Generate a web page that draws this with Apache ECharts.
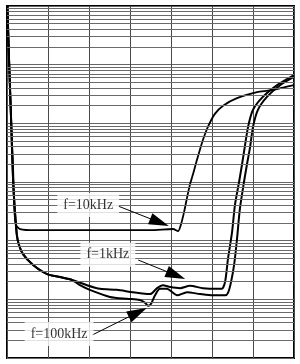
<!DOCTYPE html>
<html><head><meta charset="utf-8">
<script src="https://cdn.jsdelivr.net/npm/echarts@6/dist/echarts.min.js"></script>
<style>html,body{margin:0;padding:0;background:#fff}#c{width:300px;height:364px}</style>
</head><body><div id="c"></div>
<script>
// ---- data ----
var x10k = [0.01,0.05,0.10,0.15,0.18,0.22,0.32,0.68,1.78,3.49,4.05,4.17,4.24,4.32,4.39,4.46,4.54,4.63,4.78,4.90,5.07,5.27,5.61,6.10,6.41,6.73,7.0];
var y10k = [1000000,120000,11500,1580,331,186,158,151,151,151,158,145,186,309,537,891,1380,2340,5250,8710,14500,20000,26900,33900,36300,40700,44700];

var x1k = [0.01,0.05,0.10,0.15,0.20,0.24,0.29,0.39,0.63,0.98,1.29,1.59,1.95,2.27,2.68,3.07,3.49,3.66,3.80,3.98,4.22,4.46,4.78,5.12,5.24,5.32,5.39,5.49,5.56,5.66,5.73,5.80,5.88,6.0,6.24,6.59,7.0];
var y1k = [1000000,120000,11500,1000,275,126,85.1,58.9,38.9,26.9,24.0,21.4,17.4,15.1,14.5,13.2,12.3,15.5,17.4,16.2,15.5,17.0,15.5,15.1,15.1,20.0,49.0,141,407,1000,1950,3980,8710,17000,28200,44700,66100];

var x100k = [0.01,0.05,0.10,0.15,0.20,0.24,0.29,0.39,0.63,0.98,1.29,1.59,1.78,2.02,2.51,2.93,3.24,3.37,3.44,3.51,3.61,3.73,3.90,4.15,4.39,4.71,5.02,5.32,5.39,5.46,5.54,5.61,5.68,5.78,5.85,5.93,6.0,6.12,6.34,6.66,7.0];
var y100k = [1000000,120000,11500,1000,275,126,85.1,58.9,38.9,26.9,24.0,21.4,17.4,14.5,11.0,10.2,9.77,8.71,7.76,8.32,11.7,15.1,15.1,11.7,13.2,12.3,11.7,11.7,12.9,19.1,38.9,107,347,1000,1950,3980,8710,17000,28200,44700,61700];

var minorFactors = [2,3,4,5,6,7,8,9];
var decades = [1,10,100,1000,10000,100000];

var labelTexts = ['f=10kHz','f=1kHz','f=100kHz'];
var labelPos = [[1.98,407],[2.46,57.5],[1.27,2.57]];
var arrowFrom = [[2.71,389],[3.20,46.8],[2.07,2.45]];
var arrowTo = [[3.72,205],[4.12,25.7],[3.19,6.0]];

// ---- build ----
function zip(a,b){var r=[];for(var i=0;i<a.length;i++)r.push([a[i],b[i]]);return r;}
var gridVals=[];
decades.forEach(function(d){minorFactors.forEach(function(f){gridVals.push({yAxis:d*f});});});

var chart = echarts.init(document.getElementById('c'));
var curveStyle = {color:'#000',width:2};
chart.setOption({
  animation:false,
  grid:{left:7,right:6,top:6,bottom:6,show:true,borderColor:'#000',borderWidth:2,backgroundColor:'#fff'},
  xAxis:{type:'value',min:0,max:7,interval:1,axisLabel:{show:false},axisTick:{show:false},axisLine:{show:false},
    splitLine:{show:true,lineStyle:{color:'#4a4a4a',width:1}}},
  yAxis:{type:'log',min:1,max:1000000,logBase:10,axisLabel:{show:false},axisTick:{show:false},axisLine:{show:false},
    splitLine:{show:true,lineStyle:{color:'#666',width:1}}},
  series:[
    {type:'line',data:[],z:1,silent:true,
     markLine:{silent:true,symbol:'none',label:{show:false},lineStyle:{color:'#6a6a6a',width:1,type:'solid'},data:gridVals,animation:false}},
    {name:'f=10kHz',type:'line',data:zip(x10k,y10k),showSymbol:false,smooth:0.25,lineStyle:{color:'#000',width:1.8},z:3},
    {name:'f=1kHz',type:'line',data:zip(x1k,y1k),showSymbol:false,smooth:0.25,lineStyle:curveStyle,z:3},
    {name:'f=100kHz',type:'line',data:zip(x100k,y100k),showSymbol:false,smooth:0.25,lineStyle:curveStyle,z:3},
    {type:'scatter',z:5,symbolSize:0,silent:true,
     data:labelPos.map(function(p,i){return {value:p,label:{formatter:labelTexts[i]}};}),
     label:{show:true,position:'inside',color:'#000',fontFamily:'Liberation Serif',fontSize:14,backgroundColor:'#fff',padding:[5,6]},
     markLine:{silent:true,symbol:['none','triangle'],symbolSize:[12,20],label:{show:false},lineStyle:{color:'#000',width:1,type:'solid'},
       data:arrowFrom.map(function(p,i){return [{coord:p},{coord:arrowTo[i]}];})}}
  ]
});
</script></body></html>
